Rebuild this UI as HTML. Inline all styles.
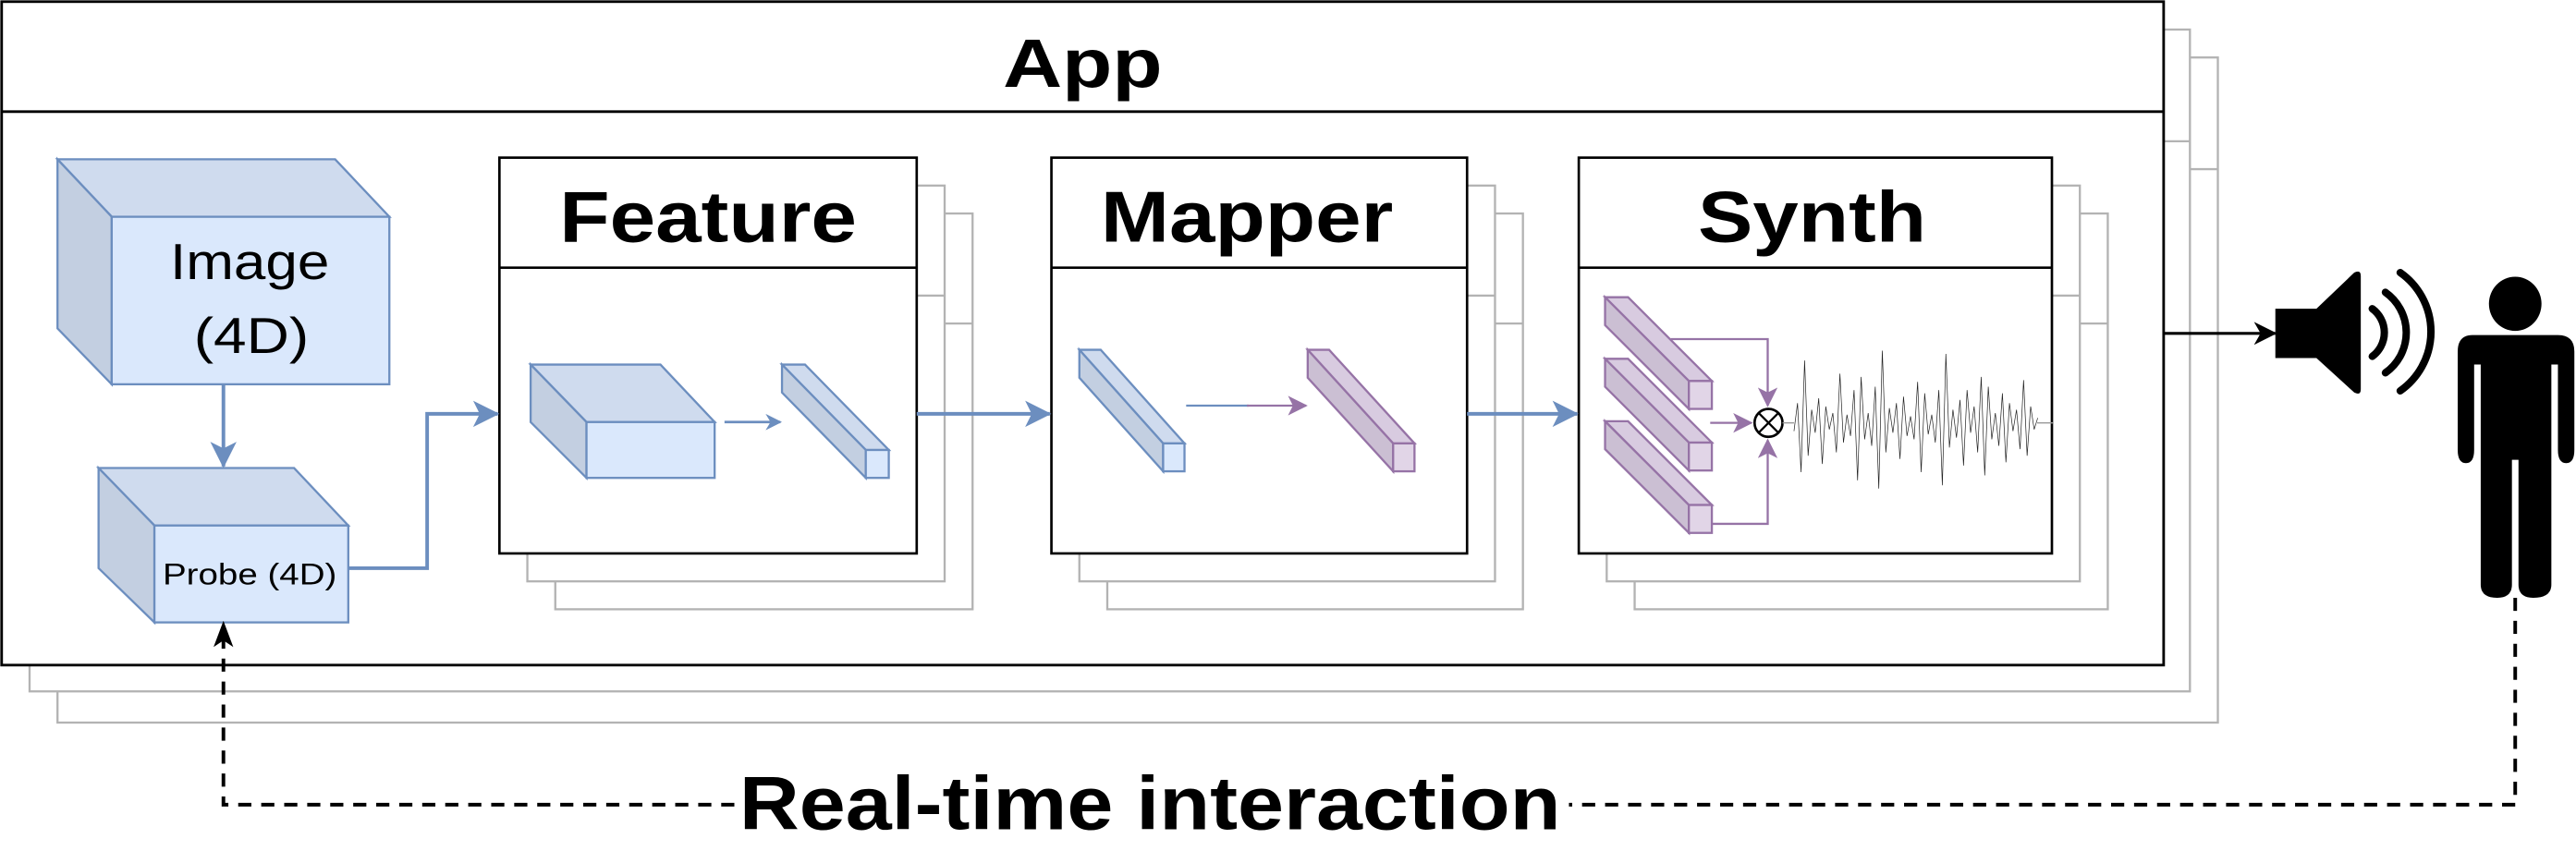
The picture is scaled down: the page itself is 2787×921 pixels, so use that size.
<!DOCTYPE html>
<html><head><meta charset="utf-8"><style>
html,body{margin:0;padding:0;background:#fff;}
svg{display:block;}
text{font-family:"Liberation Sans",Arial,sans-serif;}
</style></head><body>
<svg width="2787" height="921" viewBox="0 0 1568 518.2" preserveAspectRatio="none" xmlns="http://www.w3.org/2000/svg">
<defs>
<marker id="ab" markerWidth="10" markerHeight="10" refX="9" refY="5" orient="auto" markerUnits="userSpaceOnUse" viewBox="0 0 10 10">
<path d="M0,0 L10,5 L0,10 L3,5 Z" fill="#6c8ebf"/></marker>
<marker id="abL" markerWidth="16" markerHeight="16" refX="15" refY="8" orient="auto" markerUnits="userSpaceOnUse" viewBox="0 0 16 16">
<path d="M0,0 L16,8 L0,16 L4,8 Z" fill="#6c8ebf"/></marker>
<marker id="ap" markerWidth="12" markerHeight="12" refX="11" refY="6" orient="auto" markerUnits="userSpaceOnUse" viewBox="0 0 12 12">
<path d="M0,0 L12,6 L0,12 L3,6 Z" fill="#9673a6"/></marker>
<marker id="ak" markerWidth="14" markerHeight="14" refX="13" refY="7" orient="auto" markerUnits="userSpaceOnUse" viewBox="0 0 14 14">
<path d="M0,0 L14,7 L0,14 L4,7 Z" fill="#000"/></marker>
</defs>

<g fill="#fff" stroke="#b3b3b3" stroke-width="1.3">
<rect x="35" y="35" width="1315" height="405"/><line x1="35" y1="103" x2="1350" y2="103"/>
<rect x="18" y="18" width="1315" height="403"/><line x1="18" y1="86" x2="1333" y2="86"/>
</g>
<rect x="1" y="1" width="1316" height="404" fill="#fff" stroke="#000" stroke-width="1.6"/>
<line x1="1" y1="68" x2="1317" y2="68" stroke="#000" stroke-width="1.6"/>
<text x="659" y="53" font-size="42" font-weight="bold" text-anchor="middle" textLength="97" lengthAdjust="spacingAndGlyphs">App</text>

<g fill="#fff" stroke="#b3b3b3" stroke-width="1.3">
<rect x="338" y="130" width="254" height="241"/><line x1="338" y1="197" x2="592" y2="197"/>
<rect x="321" y="113" width="254" height="241"/><line x1="321" y1="180" x2="575" y2="180"/>
<rect x="674" y="130" width="253" height="241"/><line x1="674" y1="197" x2="927" y2="197"/>
<rect x="657" y="113" width="253" height="241"/><line x1="657" y1="180" x2="910" y2="180"/>
<rect x="995" y="130" width="288" height="241"/><line x1="995" y1="197" x2="1283" y2="197"/>
<rect x="978" y="113" width="288" height="241"/><line x1="978" y1="180" x2="1266" y2="180"/>
</g>
<g fill="#fff" stroke="#000" stroke-width="1.5">
<rect x="304" y="96" width="254" height="241"/><line x1="304" y1="163" x2="558" y2="163"/>
<rect x="640" y="96" width="253" height="241"/><line x1="640" y1="163" x2="893" y2="163"/>
<rect x="961" y="96" width="288" height="241"/><line x1="961" y1="163" x2="1249" y2="163"/>
</g>
<g font-size="44" font-weight="bold" text-anchor="middle">
<text x="431" y="147" textLength="181" lengthAdjust="spacingAndGlyphs">Feature</text>
<text x="759" y="147" textLength="178" lengthAdjust="spacingAndGlyphs">Mapper</text>
<text x="1103" y="147" textLength="139" lengthAdjust="spacingAndGlyphs">Synth</text>
</g>

<g stroke="#6c8ebf" stroke-width="1.3">
<polygon points="35,97 204,97 237,132 68,132" fill="#cfdbee"/>
<polygon points="35,97 68,132 68,234 35,200" fill="#c3cfe1"/>
<rect x="68" y="132" width="169" height="102" fill="#dae8fc"/>
</g>
<text x="152" y="170" font-size="31" text-anchor="middle" textLength="97" lengthAdjust="spacingAndGlyphs">Image</text>
<text x="153" y="215" font-size="31" text-anchor="middle" textLength="70" lengthAdjust="spacingAndGlyphs">(4D)</text>
<line x1="136" y1="234" x2="136" y2="284" stroke="#6c8ebf" stroke-width="2.2" marker-end="url(#abL)"/>

<g stroke="#6c8ebf" stroke-width="1.3">
<polygon points="60,285 179,285 212,320 94,320" fill="#cfdbee"/>
<polygon points="60,285 94,320 94,379 60,346" fill="#c3cfe1"/>
<rect x="94" y="320" width="118" height="59" fill="#dae8fc"/>
</g>
<text x="152" y="356" font-size="18" text-anchor="middle" textLength="106" lengthAdjust="spacingAndGlyphs">Probe (4D)</text>
<polyline points="212,346 260,346 260,252 303,252" fill="none" stroke="#6c8ebf" stroke-width="2.2" marker-end="url(#abL)"/>

<g stroke="#6c8ebf" stroke-width="1.3">
<polygon points="323,222 402,222 435,257 357,257" fill="#cfdbee"/>
<polygon points="323,222 357,257 357,291 323,257" fill="#c3cfe1"/>
<rect x="357" y="257" width="78" height="34" fill="#dae8fc"/>
<polygon points="476,222 490,222 541,274 527,274" fill="#cfdbee"/>
<polygon points="476,222 527,274 527,291 476,239" fill="#c3cfe1"/>
<rect x="527" y="274" width="14" height="17" fill="#dae8fc"/>
</g>
<line x1="441" y1="257" x2="475" y2="257" stroke="#6c8ebf" stroke-width="1.5" marker-end="url(#ab)"/>
<line x1="558" y1="252" x2="639" y2="252" stroke="#6c8ebf" stroke-width="2.2" marker-end="url(#abL)"/>

<g stroke="#6c8ebf" stroke-width="1.3">
<polygon points="657,213 670,213 721,270 708,270" fill="#cfdbee"/>
<polygon points="657,213 708,270 708,287 657,230" fill="#c3cfe1"/>
<rect x="708" y="270" width="13" height="17" fill="#dae8fc"/>
</g>
<line x1="722" y1="247" x2="760" y2="247" stroke="#6c8ebf" stroke-width="1.3"/>
<line x1="759" y1="247" x2="795" y2="247" stroke="#9673a6" stroke-width="1.3" marker-end="url(#ap)"/>
<g stroke="#9673a6" stroke-width="1.3">
<polygon points="796,213 809,213 861,270 848,270" fill="#d8cbe0"/>
<polygon points="796,213 848,270 848,287 796,230" fill="#cbbfd3"/>
<rect x="848" y="270" width="13" height="17" fill="#e1d5e7"/>
</g>
<line x1="893" y1="252" x2="960" y2="252" stroke="#6c8ebf" stroke-width="2.2" marker-end="url(#abL)"/>

<g stroke="#9673a6" stroke-width="1.3" fill="none">
<polyline points="1017,206.5 1076,206.5 1076,247" marker-end="url(#ap)"/>
<line x1="1041" y1="257.5" x2="1066" y2="257.5" marker-end="url(#ap)"/>
<polyline points="1041,319 1076,319 1076,268" marker-end="url(#ap)"/>
</g>
<g stroke="#9673a6" stroke-width="1.3">
<g>
<polygon points="977,181 991,181 1042,232 1028,232" fill="#d8cbe0"/>
<polygon points="977,181 1028,232 1028,249 977,198" fill="#cbbfd3"/>
<rect x="1028" y="232" width="14" height="17" fill="#e1d5e7"/>
</g>
<g transform="translate(0,37.5)">
<polygon points="977,181 991,181 1042,232 1028,232" fill="#d8cbe0"/>
<polygon points="977,181 1028,232 1028,249 977,198" fill="#cbbfd3"/>
<rect x="1028" y="232" width="14" height="17" fill="#e1d5e7"/>
</g>
<g transform="translate(0,75.5)">
<polygon points="977,181 991,181 1042,232 1028,232" fill="#d8cbe0"/>
<polygon points="977,181 1028,232 1028,249 977,198" fill="#cbbfd3"/>
<rect x="1028" y="232" width="14" height="17" fill="#e1d5e7"/>
</g>
</g>
<circle cx="1076.5" cy="257.5" r="8.5" fill="#fff" stroke="#000" stroke-width="1.5"/>
<line x1="1070.5" y1="251.5" x2="1082.5" y2="263.5" stroke="#000" stroke-width="1.3"/>
<line x1="1082.5" y1="251.5" x2="1070.5" y2="263.5" stroke="#000" stroke-width="1.3"/>
<line x1="1085" y1="257.5" x2="1092" y2="257.5" stroke="#999" stroke-width="0.8"/>
<line x1="1240" y1="257.5" x2="1250" y2="257.5" stroke="#999" stroke-width="0.8"/>
<g transform="translate(1092,257.5) scale(2.15,1)">
<polyline fill="none" stroke="#222" stroke-width="0.7" vector-effect="non-scaling-stroke" points="0,5 1,-12 2,30 3,-38 4,20 5,-8 6,6 7,-15 8,25 9,-10 10,4 11,-6 12,18 13,-30 14,12 15,-5 16,8 17,-20 18,35 19,-28 20,10 21,-6 22,14 23,-22 24,40 25,-44 26,18 27,-9 28,6 29,-12 30,22 31,-16 32,8 33,-4 34,10 35,-25 36,30 37,-18 38,7 39,-5 40,12 41,-20 42,38 43,-42 44,15 45,-8 46,9 47,-14 48,26 49,-20 50,6 51,-10 52,18 53,-28 54,32 55,-22 56,10 57,-6 58,14 59,-18 60,24 61,-12 62,5 63,-8 64,16 65,-26 66,20 67,-10 68,4 69,-3"/>
</g>

<line x1="1317" y1="203" x2="1385" y2="203" stroke="#000" stroke-width="1.8" marker-end="url(#ak)"/>
<path d="M1385,188 L1410,188 L1433,166 Q1437,164 1437,168 L1437,237 Q1437,241 1433,239 L1410,218 L1385,218 Z" fill="#000"/>
<g fill="none" stroke="#000" stroke-width="4.5" stroke-linecap="round">
<path d="M1444,188 A18,18 0 0 1 1444,217"/>
<path d="M1452,178 A30,30 0 0 1 1452,227"/>
<path d="M1461,166 A44,44 0 0 1 1461,238"/>
</g>
<ellipse cx="1531" cy="185" rx="16" ry="16.5" fill="#000"/>
<path d="M1505,204 L1557,204 Q1567,204 1567,214 L1567,274 Q1567,282 1562,282 Q1557,282 1557,274 L1557,222 L1553,222 L1553,356 Q1553,364 1542,364 Q1533,364 1533,356 L1533,280 L1529,280 L1529,356 Q1529,364 1520,364 Q1510,364 1510,356 L1510,222 L1506,222 L1506,274 Q1506,282 1501,282 Q1496,282 1496,274 L1496,214 Q1496,204 1505,204 Z" fill="#000"/>

<g fill="none" stroke="#000" stroke-width="2.2" stroke-dasharray="8,6">
<polyline points="1531,364 1531,490 955,490"/>
<polyline points="447,490 136,490 136,388"/>
</g>
<path d="M136,378 L142,394 L136,390 L130,394 Z" fill="#000"/>
<text x="700" y="505" font-size="46" font-weight="bold" text-anchor="middle" textLength="500" lengthAdjust="spacingAndGlyphs">Real-time interaction</text>
</svg>
</body></html>
